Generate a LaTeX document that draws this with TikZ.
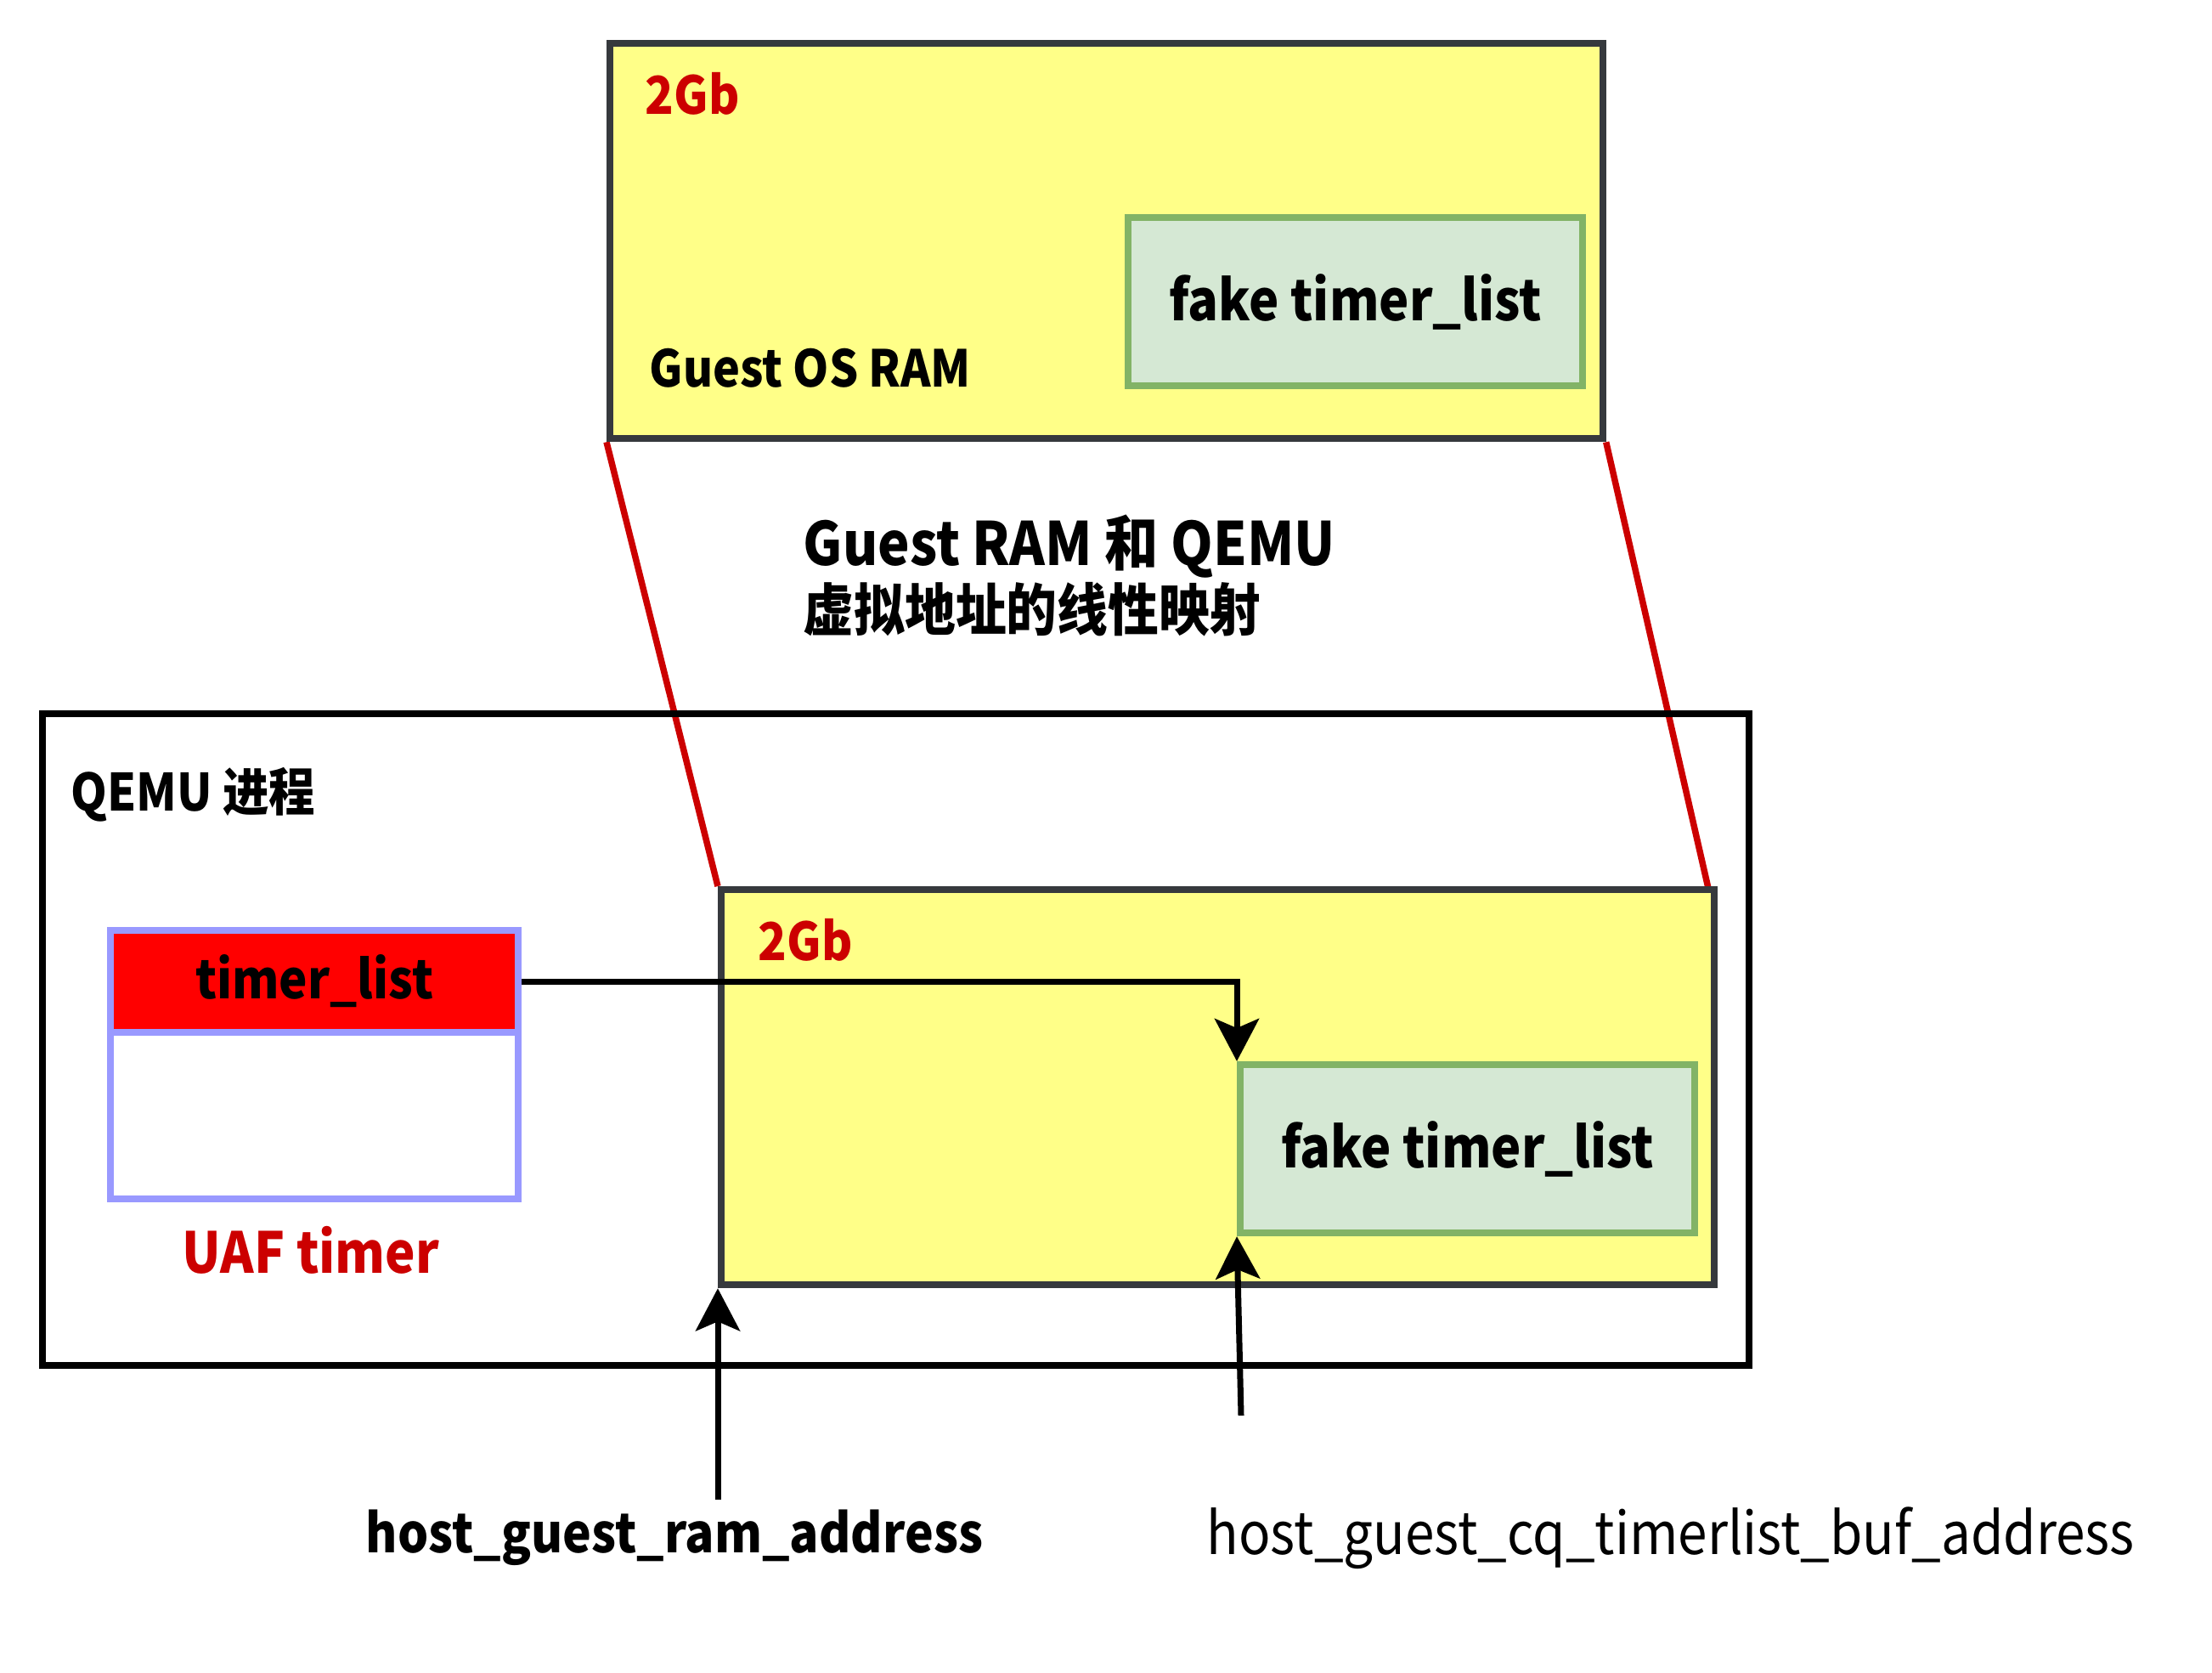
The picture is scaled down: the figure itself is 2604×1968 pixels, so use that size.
\documentclass[tikz,border=0pt]{standalone}
\usepackage{fontspec}
\setmainfont{Noto Sans CJK SC}[FakeStretch=0.9]
\usetikzlibrary{arrows.meta}
\definecolor{yel}{HTML}{FFFF88}
\definecolor{dk}{HTML}{36393D}
\definecolor{grf}{HTML}{D5E8D4}
\definecolor{grs}{HTML}{82B366}
\definecolor{rt}{HTML}{CC0000}
\definecolor{bl}{HTML}{9999FF}
\pgfdeclarelayer{bg}
\pgfsetlayers{bg,main}
\newcommand{\fsz}[1]{\fontsize{#1}{1.2\dimexpr#1\relax}\selectfont}
\tikzset{
  ram/.style={draw=dk, fill=yel, line width=0.08cm, inner sep=0, anchor=north west,
    minimum width=11.68cm, minimum height=4.65cm},
  fakebox/.style={draw=grs, fill=grf, line width=0.08cm, inner sep=0, anchor=north west,
    minimum width=5.35cm, minimum height=1.98cm,
    font=\fsz{18.8pt}\bfseries},
  frame/.style={draw=black, line width=0.08cm, inner sep=0, anchor=north west},
  lbl/.style={inner sep=0, anchor=west},
  redtxt/.style={text=rt},
  redline/.style={draw=rt, line width=0.075cm},
  arr/.style={draw=black, line width=0.07cm, -{Stealth[length=0.5cm,width=0.52cm,inset=0.11cm]}},
}
\begin{document}
\begin{tikzpicture}[x=0.01cm,y=-0.01cm]
\useasboundingbox (0,0) rectangle (2604,1968);
\begin{pgfonlayer}{bg}
\fill[white] (0,0) rectangle (2604,1968);
\end{pgfonlayer}
% guest OS RAM
\node[ram] (gram) at (714,47) {};
\node[fakebox] (gfake) at (1324,252) {fake timer\_list};
\node[lbl, redtxt, font=\fsz{17.5pt}\bfseries] (g2gb) at (759,110) {2Gb};
\node[lbl, font=\fsz{17pt}\bfseries] (gos) at (764,433) {Guest OS RAM};
% mapping text
\node[lbl, font=\fsz{20pt}\bfseries] (map1) at (945,643) {Guest RAM 和 QEMU};
\node[lbl, font=\fsz{18.9pt}\bfseries] (map2) at (945,717) {虚拟地址的线性映射};
% QEMU process
\node[frame, minimum width=20.08cm, minimum height=7.67cm] (qemu) at (46,836) {};
\node[lbl, font=\fsz{17.2pt}\bfseries] (qlbl) at (83,935) {QEMU 进程};
\node[draw=bl, fill=white, line width=0.08cm, inner sep=0, anchor=north west,
  minimum width=4.80cm, minimum height=3.16cm] (tl) at (126,1091) {};
\node[draw=bl, fill=red, line width=0.08cm, inner sep=0, anchor=north west,
  minimum width=4.80cm, minimum height=1.20cm,
  font=\fsz{17.8pt}\bfseries] (hdr) at (126,1091) {timer\_list};
\node[redtxt, inner sep=0, font=\fsz{18.9pt}\bfseries] (uaf) at (366,1471) {UAF timer};
\node[ram] (hram) at (845,1043) {};
\node[fakebox] (hfake) at (1456,1249) {fake timer\_list};
\node[lbl, redtxt, font=\fsz{17.5pt}\bfseries] (h2gb) at (892,1106) {2Gb};
% red mapping lines
\coordinate (rend) at (2018,1076);
\begin{pgfonlayer}{bg}
\draw[redline] (gram.south west) -- (hram.north west);
\draw[redline] (gram.south east) -- (rend);
\end{pgfonlayer}
% arrows
\draw[arr] (hdr.east) -| (hfake.north west);
\coordinate (a2) at (845,1765);
\coordinate (a3) at (1461,1666);
\draw[arr] (a2) -- (hram.south west);
\draw[arr] (a3) -- (hfake.south west);
\node[inner sep=0, font=\fsz{18pt}\bfseries] (hgra) at (794,1810) {host\_guest\_ram\_address};
\node[lbl, font=\fsz{19.6pt}] (hgcq) at (1420,1810) {host\_guest\_cq\_timerlist\_buf\_address};
\end{tikzpicture}
\end{document}
